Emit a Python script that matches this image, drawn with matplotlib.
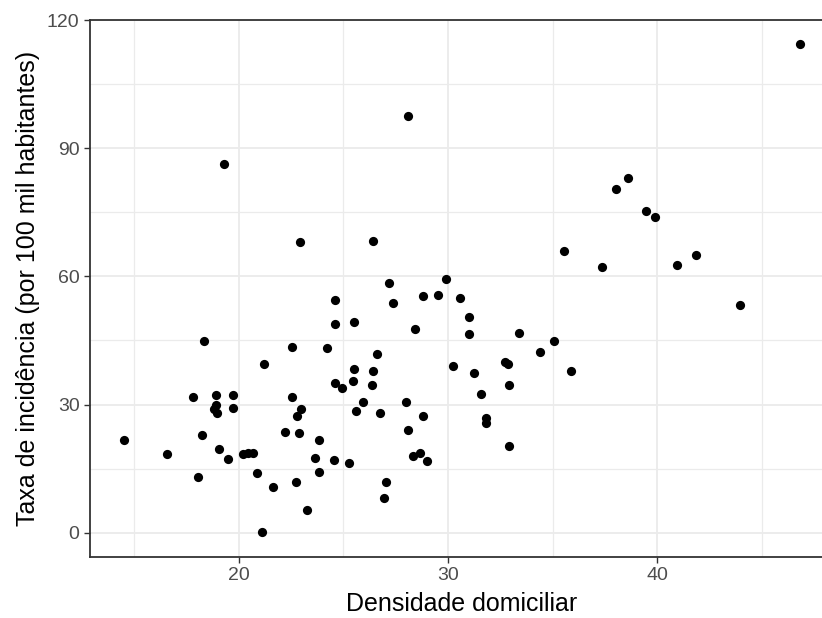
import matplotlib
matplotlib.use("Agg")
import matplotlib.pyplot as plt
from matplotlib.ticker import MultipleLocator

densidade = [
    24.62, 24.62, 18.33, 22.53, 24.20, 21.21, 24.62, 17.82, 18.90, 19.73,
    22.53, 18.90, 18.81, 18.98, 19.73, 22.96, 22.79, 18.25, 22.22, 22.89,
    14.51, 23.86, 16.58, 19.08, 19.47, 20.21, 20.46, 20.67, 23.63, 24.54,
    23.86, 18.06, 20.89, 21.62, 22.72, 23.28, 21.13,
    27.19, 29.92, 28.79, 29.51, 30.59, 27.36, 25.53, 31.01, 31.01, 28.43,
    33.40, 26.61, 34.38, 35.05, 25.53, 26.44, 30.26, 31.25, 32.74, 32.85,
    32.90, 31.58, 24.95, 25.45, 26.35, 35.90, 25.95, 25.61, 26.77, 28.01,
    28.79, 31.82, 31.82, 28.09, 32.90, 25.29, 28.33, 28.65, 29.00, 27.02,
    26.93,
    28.09, 19.32, 22.95, 26.44,
    46.83, 38.05, 38.62, 39.47, 39.88, 35.55, 37.38, 40.95, 41.85, 43.94,
]
taxa = [
    54.57, 48.86, 44.80, 43.56, 43.16, 39.49, 35.04, 31.76, 32.15, 32.15,
    31.76, 29.80, 28.95, 28.10, 29.30, 28.95, 27.30, 22.86, 23.56, 23.25,
    21.60, 21.60, 18.34, 19.58, 17.17, 18.34, 18.65, 18.73, 17.47, 17.10,
    14.28, 13.02, 13.89, 10.61, 11.85, 5.39, 0.07,
    58.55, 59.32, 55.34, 55.74, 54.94, 53.70, 49.25, 50.42, 46.44, 47.61,
    46.84, 41.92, 42.30, 44.80, 38.24, 37.85, 39.10, 37.38, 39.88, 39.41,
    34.57, 32.55, 33.79, 35.43, 34.57, 37.85, 30.51, 28.57, 28.10, 30.51,
    27.31, 26.84, 25.76, 24.03, 20.37, 16.30, 17.94, 18.73, 16.70, 11.85,
    8.10,
    97.66, 86.25, 67.99, 68.38,
    114.36, 80.56, 82.97, 75.25, 74.00, 65.95, 62.30, 62.67, 65.10, 53.30,
]

x_ticks = [20, 30, 40]
y_ticks = [0, 30, 60, 90, 120]
x_label = "Densidade domiciliar"
y_label = "Taxa de incidência (por 100 mil habitantes)"

plt.rcParams['font.family'] = ['Liberation Sans', 'DejaVu Sans']

W, H = 822, 618
fig = plt.figure(figsize=(W / 100, H / 100), dpi=100)
left, right, top, bottom = 90, 834, 20, 556.7
ax = fig.add_axes([left / W, (H - bottom) / H, (right - left) / W, (bottom - top) / H])

ax.scatter(densidade, taxa, s=44, color='black', linewidths=0, zorder=3)

xmin, xmax = min(densidade), max(densidade)
ymin, ymax = min(taxa), max(taxa)
dx = (xmax - xmin) * 0.05
dy = (ymax - ymin) * 0.05
ax.set_xlim(xmin - dx, xmax + dx)
ax.set_ylim(ymin - dy, ymax + dy)

ax.set_xticks(x_ticks)
ax.set_yticks(y_ticks)
ax.xaxis.set_minor_locator(MultipleLocator(5))
ax.yaxis.set_minor_locator(MultipleLocator(15))
ax.grid(True, which='major', color='#EBEBEB', linewidth=1.3, zorder=0)
ax.grid(True, which='minor', color='#EBEBEB', linewidth=0.9, zorder=0)
ax.set_axisbelow(True)
ax.tick_params(which='minor', length=0)
ax.tick_params(which='major', length=4.5, width=1, color='#333333',
               labelsize=14, labelcolor='#4D4D4D', pad=3)
for sp in ax.spines.values():
    sp.set_color('#333333')
    sp.set_linewidth(1.3)

ax.set_xlabel(x_label, fontsize=18, color='black', labelpad=6)
ax.set_ylabel(y_label, fontsize=18, color='black', labelpad=5)

fig.savefig('out.png', dpi=100)
